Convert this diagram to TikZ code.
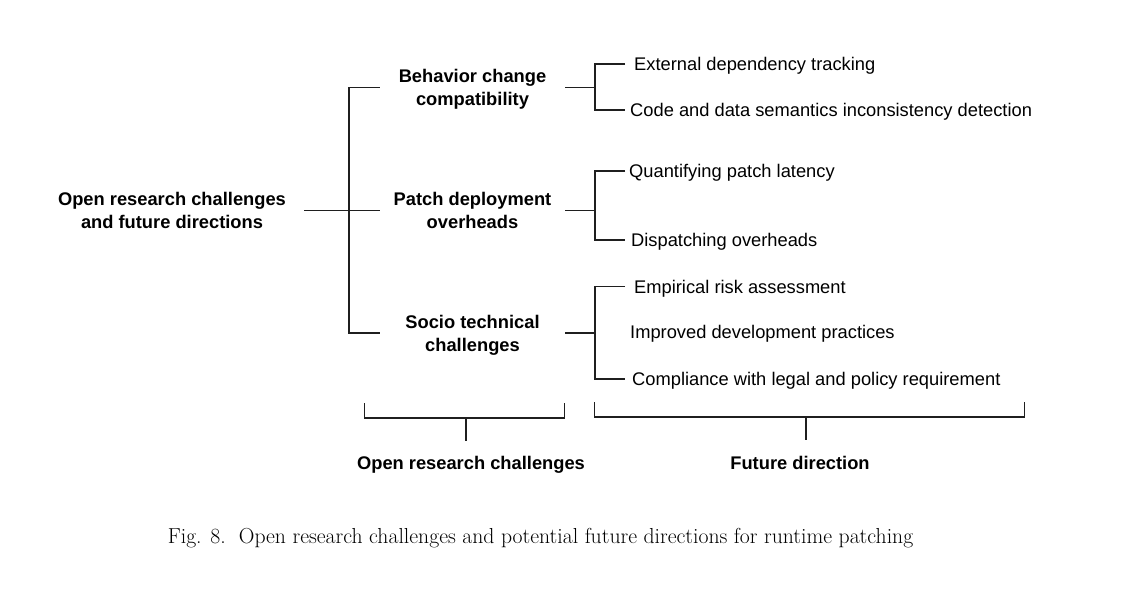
\documentclass[tikz,border=0pt]{standalone}
\usepackage{fontspec}
\setsansfont{Liberation Sans}
% two centred lines, lowered a little so the pair sits on its connector
\newcommand\twoline[2]{\raisebox{-1.9pt}[\height][\depth]{\begin{tabular}{@{}c@{}}#1\\#2\end{tabular}}}
\begin{document}
\begin{tikzpicture}[x=1pt,y=-1pt,
  conn/.style={draw=black!88, line width=1.5pt},
  headbox/.style={font=\sffamily\bfseries\fontsize{18.3}{23}\selectfont, inner sep=0pt, text=black},
  footbox/.style={font=\sffamily\bfseries\fontsize{18.3}{23}\selectfont, inner sep=0pt, text height=13.5pt, text depth=0pt, text=black},
  leafbox/.style={font=\sffamily\fontsize{18.3}{23}\selectfont, anchor=west, inner ysep=3pt, text height=13.5pt, text depth=0pt, text=black},
  captext/.style={font=\fontsize{21.7}{26}\selectfont, text=black}]
\useasboundingbox (0,0) rectangle (1129,589);

% root and the three challenge groups
\node[headbox, minimum width=264] (root) at (172,210.5) {\twoline{Open research challenges}{and future directions}};
\node[headbox, minimum width=185] (behav) at (472.5,87.5) {\twoline{Behavior change}{compatibility}};
\node[headbox, minimum width=185] (patch) at (472.5,210.5) {\twoline{Patch deployment}{overheads}};
\node[headbox, minimum width=185] (socio) at (472.5,333) {\twoline{Socio technical}{challenges}};

% future directions
\node[leafbox, inner xsep=9] (ext)  at (625,64)  {External dependency tracking};
\node[leafbox, inner xsep=5] (code) at (625,110) {Code and data semantics inconsistency detection};
\node[leafbox, inner xsep=4] (quant) at (625,171) {Quantifying patch latency};
\node[leafbox, inner xsep=6] (disp) at (625,240) {Dispatching overheads};
\node[leafbox, inner xsep=9] (emp)  at (625,286.5) {Empirical risk assessment};
\node[leafbox, inner xsep=5] (impr) at (625,332) {Improved development practices};
\node[leafbox, inner xsep=7] (comp) at (625,379) {Compliance with legal and policy requirement};

% junctions
\coordinate (jl) at (349,210.5);
\coordinate (jb) at (595,87.5);
\coordinate (jp) at (595,210.5);
\coordinate (js) at (595,333);

% left tree
\draw[conn] (root.east) -- (patch.west);
\draw[conn] (behav.west) -| (jl) |- (socio.west);

% right trees
\draw[conn] (behav.east) -- (jb);
\draw[conn] (ext.west) -| (jb) |- (code.west);
\draw[conn] (patch.east) -- (jp);
\draw[conn] (quant.west) -| (jp) |- (disp.west);
\draw[conn] (socio.east) -- (js);
\draw[conn] (emp.west) -| (js) |- (comp.west);

% bottom braces
\node[footbox] (oclab) at (471,463) {Open research challenges};
\node[footbox] (fdlab) at (800,463) {Future direction};
\coordinate (ocL) at (364.5,403);
\coordinate (ocR) at (564.5,403);
\coordinate (ocS) at (466,418);
\coordinate (fdL) at (594.5,402);
\coordinate (fdR) at (1024.5,402);
\coordinate (fdS) at (806,417);
\draw[conn] (ocL) |- (ocS) -| (ocR);
\draw[conn] (ocS) -- ++(0,23);
\draw[conn] (fdL) |- (fdS) -| (fdR);
\draw[conn] (fdS) -- ++(0,23);

% caption
\node[captext] (cap) at (540.5,538.5) {Fig. 8.\ \ Open research challenges and potential future directions for runtime patching};
\end{tikzpicture}
\end{document}
